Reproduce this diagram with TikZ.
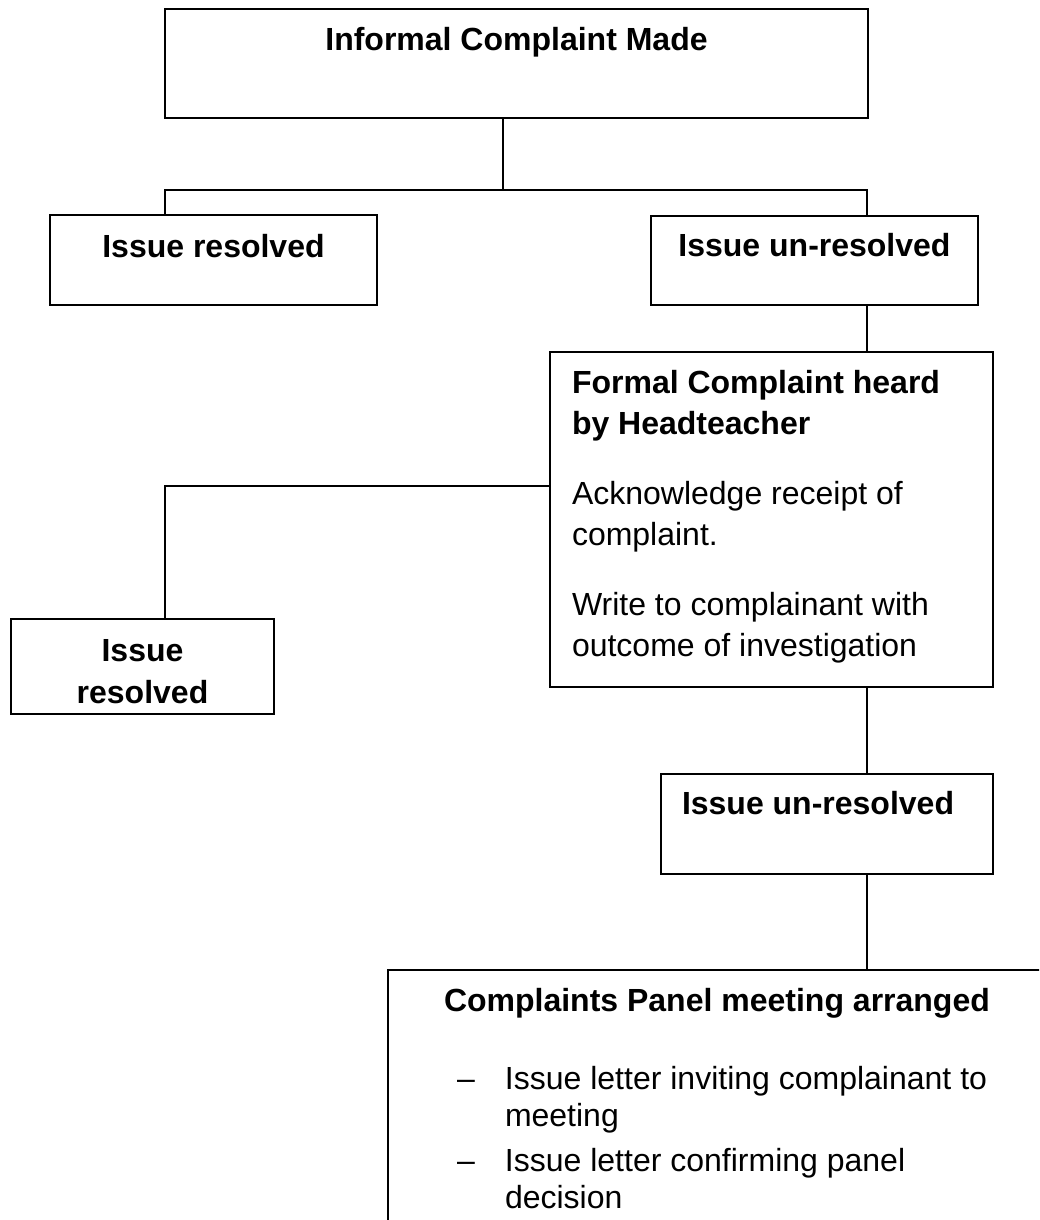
\documentclass[tikz,border=0pt]{standalone}
\usepackage{fontspec}
\setmainfont{Liberation Sans}
\usepackage{tikz}

\tikzset{
  stage/.style={draw, line width=1pt, inner sep=0pt, anchor=north west,
    font=\fontsize{16}{21}\selectfont\bfseries},
  link/.style={line width=1pt},
}

\begin{document}
\begin{tikzpicture}[x=0.5pt, y=-0.5pt]
\useasboundingbox (0,0) rectangle (1039,1220);
\clip (0,0) rectangle (1039,1220);

% Informal stage
\node[stage, minimum width=351.5pt, text height=21pt, text depth=33.5pt] (informal) at (164,8) {Informal Complaint Made};
\node[stage, minimum width=163.5pt, text height=21pt, text depth=24pt] (resolvedA) at (49,214) {Issue resolved};
\node[stage, minimum width=163.5pt, text height=20pt, text depth=24.5pt] (unresolvedA) at (650,215) {Issue un-resolved};

% Formal stage
\node[stage, font=\fontsize{16}{20.5}\selectfont, inner xsep=11pt, text width=199.5pt, align=flush left,
  text height=20.5pt, text depth=147pt] (formal) at (549,351)
  {\textbf{Formal Complaint heard}\\\textbf{by Headteacher}\\[14.5pt]
   Acknowledge receipt of\\complaint.\\[14.5pt]
   Write to complainant with\\outcome of investigation};
\node[stage, text width=131.5pt, align=flush center, text height=21pt, text depth=26.5pt] (resolvedB) at (10,618) {Issue\\resolved};
\node[stage, inner xsep=10.5pt, text width=145pt, align=flush left, text height=20pt, text depth=30pt] (unresolvedB) at (660,773) {Issue un-resolved};

% Panel stage
\node[stage, font=\fontsize{16}{18.5}\selectfont, inner xsep=28pt, text width=285pt, align=flush left,
  text height=20.5pt, text depth=300pt] (panel) at (387,969)
  {\textbf{Complaints Panel meeting arranged}\\[20.5pt]
   \hspace*{6.5pt}\makebox[24pt][l]{--}Issue letter inviting complainant to\\
   \hspace*{30.5pt}meeting\\[4pt]
   \hspace*{6.5pt}\makebox[24pt][l]{--}Issue letter confirming panel\\
   \hspace*{30.5pt}decision};

% Links
\coordinate (forkTop) at (503,190);
\coordinate (forkL) at (165,190);
\coordinate (forkR) at (867,190);
\coordinate (forkMid) at (165,486);
\draw[link] (forkTop |- informal.south) -- (forkTop);
\draw[link] (forkL |- resolvedA.north) -- (forkL) -- (forkR) -- (forkR |- unresolvedA.north);
\draw[link] (forkR |- unresolvedA.south) -- (forkR |- formal.north);
\draw[link] (formal.west |- forkMid) -- (forkMid) -- (forkMid |- resolvedB.north);
\draw[link] (forkR |- formal.south) -- (forkR |- unresolvedB.north);
\draw[link] (forkR |- unresolvedB.south) -- (forkR |- panel.north);
\end{tikzpicture}
\end{document}
